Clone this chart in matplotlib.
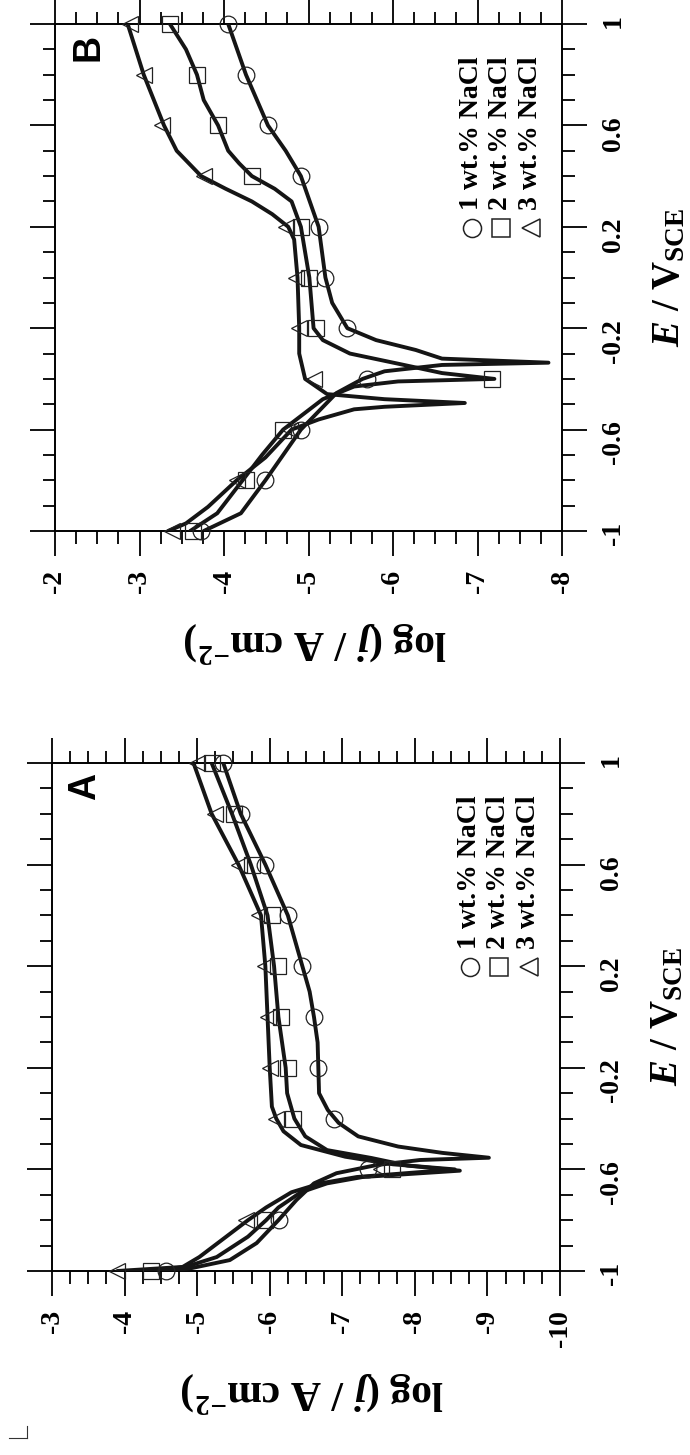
import numpy as np
import matplotlib
matplotlib.use('Agg')
import matplotlib.pyplot as plt
from matplotlib.ticker import MultipleLocator
from matplotlib.lines import Line2D

plt.rcParams['font.family'] = ['Liberation Serif', 'DejaVu Sans']
plt.rcParams['font.weight'] = 'bold'
plt.rcParams['mathtext.fontset'] = 'custom'
plt.rcParams['mathtext.rm'] = 'Liberation Serif:bold'
plt.rcParams['mathtext.it'] = 'Liberation Serif:italic:bold'
plt.rcParams['mathtext.bf'] = 'Liberation Serif:bold'

labels = ['1 wt.% NaCl', '2 wt.% NaCl', '3 wt.% NaCl']
markers = ['o', 's', '<']

e_ticks = [-1, -0.6, -0.2, 0.2, 0.6, 1]
e_ticklabels = ['-1', '-0.6', '-0.2', '0.2', '0.6', '1']
e_marks = [1.0, 0.8, 0.6, 0.4, 0.2, 0.0, -0.2, -0.4, -0.6, -0.8, -1.0]

# panel A
a_ticks = [-3, -4, -5, -6, -7, -8, -9, -10]
a_ticklabels = ['-3', '-4', '-5', '-6', '-7', '-8', '-9', '-10']

a1_e = [-1.0, -0.99, -0.957, -0.89, -0.8, -0.72, -0.655, -0.615, -0.583, -0.563, -0.554,
        -0.535, -0.51, -0.47, -0.417, -0.366, -0.30, -0.2, -0.1, 0.0, 0.1, 0.2, 0.4, 0.6, 0.8, 1.0]
a1_j = [-4.6, -4.9, -5.45, -5.82, -6.12, -6.37, -6.61, -6.92, -7.47, -8.07, -9.02,
        -8.38, -7.77, -7.22, -6.95, -6.8, -6.68, -6.67, -6.66, -6.61, -6.55, -6.45, -6.25, -5.94, -5.6, -5.36]
a2_e = [-1.0, -0.984, -0.945, -0.865, -0.8, -0.75, -0.69, -0.655, -0.63, -0.605,
        -0.585, -0.555, -0.524, -0.47, -0.4, -0.3, -0.2, 0.0, 0.2, 0.4, 0.6, 0.8, 1.0]
a2_j = [-4.36, -4.84, -5.27, -5.7, -5.95, -6.12, -6.43, -6.79, -7.28, -8.62,
        -7.9, -7.4, -6.79, -6.49, -6.34, -6.24, -6.22, -6.12, -6.06, -5.97, -5.74, -5.48, -5.2]
a3_e = [-1.0, -0.984, -0.945, -0.865, -0.8, -0.75, -0.69, -0.655, -0.63, -0.60,
        -0.58, -0.55, -0.504, -0.45, -0.4, -0.353, -0.2, 0.0, 0.2, 0.4, 0.6, 0.8, 1.0]
a3_j = [-3.9, -4.8, -5.03, -5.4, -5.7, -5.95, -6.3, -6.7, -7.2, -8.55,
        -7.7, -7.04, -6.43, -6.19, -6.09, -6.03, -6.0, -5.97, -5.94, -5.88, -5.57, -5.2, -4.95]
a1_m = [-5.36, -5.6, -5.94, -6.25, -6.45, -6.61, -6.67, -6.89, -7.35, -6.13, -4.57]
a2_m = [-5.21, -5.51, -5.76, -6.03, -6.12, -6.16, -6.25, -6.32, -7.68, -5.94, -4.36]
a3_m = [-5.0, -5.24, -5.58, -5.85, -5.94, -5.97, -6.0, -6.09, -7.53, -5.67, -3.9]

# panel B
b_ticks = [-2, -3, -4, -5, -6, -7, -8]
b_ticklabels = ['-2', '-3', '-4', '-5', '-6', '-7', '-8']

b1_e = [-1.0, -0.93, -0.8, -0.7, -0.6, -0.456, -0.40, -0.37, -0.345, -0.336, -0.32, -0.286,
        -0.247, -0.2, -0.1, 0.0, 0.2, 0.4, 0.5, 0.6, 0.8, 1.0]
b1_j = [-3.76, -4.2, -4.49, -4.7, -4.91, -5.33, -5.64, -5.9, -6.58, -7.84, -6.58, -6.27,
        -5.8, -5.46, -5.28, -5.2, -5.12, -4.91, -4.73, -4.52, -4.26, -4.05]
b2_e = [-1.0, -0.93, -0.8, -0.7, -0.6, -0.48, -0.43, -0.41, -0.40, -0.377, -0.34, -0.30,
        -0.247, -0.2, 0.0, 0.2, 0.3, 0.35, 0.4, 0.45, 0.5, 0.6, 0.7, 0.8, 0.9, 1.0]
b2_j = [-3.6, -3.92, -4.22, -4.45, -4.7, -5.17, -5.54, -6.06, -7.2, -6.58, -6.06, -5.49,
        -5.17, -5.06, -5.01, -4.91, -4.8, -4.6, -4.33, -4.18, -4.05, -3.93, -3.76, -3.68, -3.55, -3.36]
b3_e = [-1.0, -0.97, -0.905, -0.8, -0.71, -0.6, -0.56, -0.52, -0.51, -0.495, -0.48, -0.46,
        -0.40, -0.30, -0.2, 0.0, 0.15, 0.2, 0.25, 0.3, 0.35, 0.4, 0.5, 0.6, 0.8, 1.0]
b3_j = [-3.34, -3.55, -3.81, -4.15, -4.49, -4.80, -5.12, -5.54, -5.9, -6.85, -5.9, -5.22,
        -4.96, -4.89, -4.89, -4.87, -4.83, -4.76, -4.57, -4.33, -4.02, -3.73, -3.44, -3.29, -3.05, -2.86]
b1_m = [-4.05, -4.26, -4.52, -4.91, -5.12, -5.2, -5.46, -5.69, -4.91, -4.49, -3.73]
b2_m = [-3.36, -3.68, -3.93, -4.33, -4.91, -5.01, -5.09, -7.17, -4.7, -4.26, -3.63]
b3_m = [-2.89, -3.05, -3.27, -3.76, -4.73, -4.85, -4.89, -5.07, -4.78, -4.15, -3.39]


def draw_panel(ax, curves, marks, xlim, xticks, xticklabels, letter, xlab_y):
    for e, j in curves:
        ax.plot(j, e, color='#151515', lw=2.8, solid_joinstyle='round',
                solid_capstyle='round', zorder=3)
    for m, jm in zip(markers, marks):
        ax.plot(jm, e_marks, ls='none', marker=m, ms=12, mfc='none', mec='#222222',
                mew=0.9, zorder=4, clip_on=False)

    ax.set_xlim(xlim)
    ax.set_ylim(-1, 1)
    ax.set_xticks(xticks)
    ax.set_xticklabels(xticklabels, rotation=90, fontsize=20)
    ax.xaxis.set_minor_locator(MultipleLocator(0.25))
    ax.set_yticks(e_ticks)
    ax.set_yticklabels(e_ticklabels, rotation=90, fontsize=20)
    for tl in ax.get_yticklabels():
        tl.set_va('center')
    ax.yaxis.set_minor_locator(MultipleLocator(0.1))
    ax.tick_params(which='both', direction='out', top=True, right=True, left=True,
                   bottom=True, labelleft=False, labelright=True, labeltop=False,
                   width=1.4, color='#111111')
    ax.tick_params(which='major', length=18, pad=10)
    ax.tick_params(which='minor', length=9)
    for s in ax.spines.values():
        s.set_linewidth(1.4)

    ax.set_xlabel(r'$\mathrm{log\ (}\mathit{j}\mathrm{\ /\ A\ cm^{-2})}$', fontsize=30, rotation=180)
    ax.xaxis.set_label_coords(0.513, xlab_y)
    ax.yaxis.set_label_position('right')
    ax.set_ylabel(r'$\mathit{E}\mathrm{\ /\ V_{SCE}}$', fontsize=28)
    ax.yaxis.set_label_coords(1.176, 0.5)

    ax.text(0.03, 0.98, letter, transform=ax.transAxes, rotation=90, ha='left', va='top',
            fontsize=27, family='Liberation Sans', weight='bold')
    for xi, m, lab in zip([0.822, 0.879, 0.938], markers, labels):
        ax.plot([xi], [0.598], transform=ax.transAxes, ls='none', marker=m, ms=13,
                mfc='none', mec='#222222', mew=1.1, clip_on=False)
        ax.text(xi, 0.633, lab, transform=ax.transAxes, rotation=90,
                rotation_mode='anchor', ha='left', va='center', fontsize=20)


fig = plt.figure(figsize=(6.9, 14.55), dpi=100)
W, H = 690.0, 1455.0
ax_b = fig.add_axes([55 / W, 1 - 531 / H, 507 / W, 507 / H])
ax_a = fig.add_axes([52 / W, 1 - 1271 / H, 508 / W, 508 / H])

draw_panel(ax_b, [(b1_e, b1_j), (b2_e, b2_j), (b3_e, b3_j)], [b1_m, b2_m, b3_m],
           (-2, -8), b_ticks, b_ticklabels, 'B', -0.176)
draw_panel(ax_a, [(a1_e, a1_j), (a2_e, a2_j), (a3_e, a3_j)], [a1_m, a2_m, a3_m],
           (-3, -10), a_ticks, a_ticklabels, 'A', -0.195)

# crop mark in the lower left corner
fig.add_artist(Line2D([9 / W, 27 / W], [1 - 1438 / H, 1 - 1438 / H], color='#333333', lw=0.8))
fig.add_artist(Line2D([27 / W, 27 / W], [1 - 1426 / H, 1 - 1438 / H], color='#333333', lw=0.8))

fig.savefig('out.png', dpi=100)
